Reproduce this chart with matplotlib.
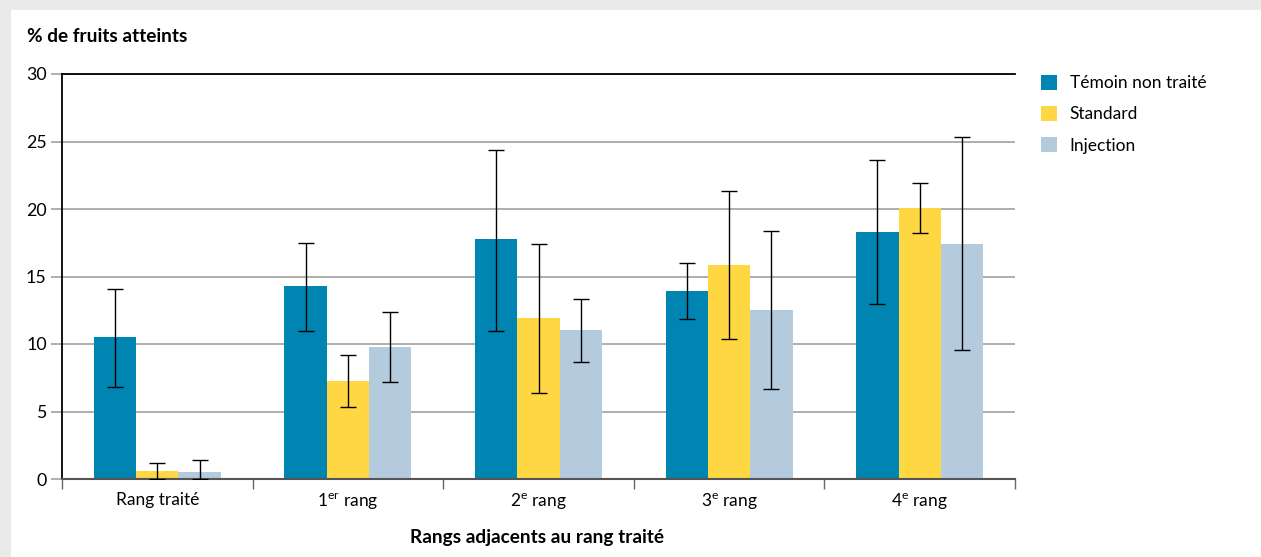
import matplotlib
matplotlib.use("Agg")
import matplotlib.pyplot as plt
import numpy as np
from matplotlib.patches import Patch

plt.rcParams['font.family'] = ['Lato', 'DejaVu Sans']

categories = ["Rang traité", r"1$^{\mathregular{er}}$ rang", r"2$^{\mathregular{e}}$ rang",
              r"3$^{\mathregular{e}}$ rang", r"4$^{\mathregular{e}}$ rang"]
series = ["Témoin non traité", "Standard", "Injection"]
colors = ["#0085b2", "#ffd743", "#b4cadd"]

temoin = [10.5, 14.3, 17.8, 13.9, 18.3]
temoin_low = [6.8, 11.0, 11.0, 11.85, 12.95]
temoin_high = [14.1, 17.5, 24.4, 16.0, 23.6]

standard = [0.6, 7.25, 11.9, 15.85, 20.1]
standard_low = [0.0, 5.3, 6.35, 10.4, 18.25]
standard_high = [1.15, 9.2, 17.4, 21.3, 21.9]

injection = [0.5, 9.8, 11.05, 12.5, 17.4]
injection_low = [0.0, 7.2, 8.7, 6.65, 9.55]
injection_high = [1.4, 12.35, 13.3, 18.4, 25.3]

values = [temoin, standard, injection]
lows = [temoin_low, standard_low, injection_low]
highs = [temoin_high, standard_high, injection_high]

fig = plt.figure(figsize=(12.61, 5.57), dpi=100)
fig.patch.set_facecolor("#e9ebea")
# white panel behind everything
panel = plt.Rectangle((11 / 1261, 0), 1, 1 - 10 / 557, transform=fig.transFigure,
                      facecolor="white", edgecolor="none", zorder=-10)
fig.add_artist(panel)

ax = fig.add_axes([62 / 1261, 1 - 479 / 557, 953 / 1261, 405 / 557])
ax.set_facecolor("none")

x = np.arange(len(categories))
width = 0.222
for i, (vals, lo, hi, col) in enumerate(zip(values, lows, highs, colors)):
    pos = x + (i - 1) * width
    vals = np.array(vals)
    yerr = [vals - np.array(lo), np.array(hi) - vals]
    ax.bar(pos, vals, width, color=col, zorder=2)
    ax.errorbar(pos, vals, yerr=yerr, fmt="none", ecolor="black", elinewidth=1.0,
                capsize=5.8, capthick=1.0, zorder=3)

ax.set_xlim(-0.5, 4.5)
ax.set_ylim(0, 30)
ax.set_yticks(range(0, 31, 5))
ax.yaxis.grid(True, color="#a8a8a8", linewidth=1.3, zorder=1)
ax.set_axisbelow(True)

ax.set_xticks(x)
ax.set_xticklabels(categories, fontsize=12.5)
ax.tick_params(axis="x", length=0, pad=9)
ax.set_xticks(np.arange(-0.5, 5, 1), minor=True)
ax.tick_params(axis="x", which="minor", length=7, color="#666666", width=1)
ax.tick_params(axis="y", length=8, color="#a8a8a8", width=1.3, labelsize=12.8, pad=3)

ax.spines["right"].set_visible(False)
ax.spines["top"].set_color("black")
ax.spines["top"].set_linewidth(1.3)
ax.spines["left"].set_color("black")
ax.spines["left"].set_linewidth(1.3)
ax.spines["bottom"].set_color("#555555")
ax.spines["bottom"].set_linewidth(1.5)

fig.text(27 / 1261, 1 - 37 / 557, "% de fruits atteints", fontsize=13.7, fontweight="bold",
         ha="left", va="center")
fig.text(537 / 1261, 1 - 537 / 557, "Rangs adjacents au rang traité", fontsize=13.7,
         fontweight="bold", ha="center", va="center")

handles = [Patch(facecolor=c, edgecolor="none") for c in colors]
fig.legend(handles, series, loc="upper left", bbox_to_anchor=(1041 / 1261, 1 - 75 / 557),
           frameon=False, fontsize=12.5, handlelength=0.95, handleheight=0.95,
           handletextpad=0.7, labelspacing=0.84, borderpad=0, borderaxespad=0)

fig.savefig("out.png", dpi=100)
